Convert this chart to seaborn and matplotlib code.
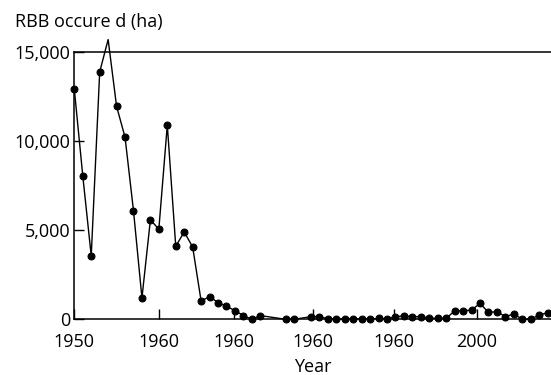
import numpy as np
import pandas as pd
import matplotlib
matplotlib.use("Agg")
import matplotlib.pyplot as plt
import seaborn as sns

# Annual area of RBB occurrence (ha)
years = [1950, 1951, 1952, 1953, 1954, 1955, 1956, 1957, 1958, 1959,
         1960, 1961, 1962, 1963, 1964, 1965, 1966, 1967, 1968, 1969,
         1970, 1971, 1972, 1975, 1976, 1978, 1979, 1980, 1981, 1982,
         1983, 1984, 1985, 1986, 1987, 1988, 1989, 1990, 1991, 1992,
         1993, 1994, 1995, 1996, 1997, 1998, 1999, 2000, 2001, 2002,
         2003, 2004, 2005, 2006]
area_ha = [12900, 8050, 3560, 13880, 15700, 11950, 10220, 6090, 1200, 5580,
           5060, 10900, 4100, 4900, 4060, 1030, 1270, 940, 730, 490,
           210, 0, 210, 0, 0, 150, 150, 30, 0, 20,
           20, 20, 20, 50, 10, 150, 190, 150, 150, 60,
           60, 60, 470, 470, 520, 890, 390, 430, 150, 300,
           0, 0, 240, 370]

xtick_pos = [1950.0, 1960.0, 1968.9, 1978.2, 1987.8, 1997.6]
xtick_labels = ["1950", "1960", "1960", "1960", "1960", "2000"]
ytick_pos = [0, 5000, 10000, 15000]
ytick_labels = ["0", "5,000", "10,000", "15,000"]

df = pd.DataFrame({"Year": years, "Area": area_ha})

sns.set_theme(style="ticks")
plt.rcParams["font.family"] = ["Open Sans", "DejaVu Sans"]

fig = plt.figure(figsize=(5.51, 3.75), dpi=100)
ax = fig.add_axes([0.1349, 0.1485, 1.0 - 0.1349, 0.8613 - 0.1485])

ymax = 15000
shown = [v <= ymax for v in area_ha]
sns.lineplot(data=df, x="Year", y="Area", ax=ax, color="black",
             linewidth=1.0, marker="o", markersize=5.0,
             markerfacecolor="black", markeredgecolor="black",
             markevery=shown, clip_on=False, sort=False,
             estimator=None)

ax.set_xlim(1950, 2006.4)
ax.set_ylim(0, ymax)

ax.set_xticks(xtick_pos)
ax.set_xticklabels(xtick_labels)
ax.set_yticks(ytick_pos)
ax.set_yticklabels(ytick_labels)

ax.tick_params(axis="both", direction="in", length=7.5, width=1.0,
               colors="black", labelsize=13)
ax.tick_params(axis="x", pad=10)
ax.tick_params(axis="y", pad=3)

for side in ("left", "bottom", "top"):
    ax.spines[side].set_linewidth(1.1)
    ax.spines[side].set_color("black")
ax.spines["right"].set_visible(False)

ax.set_xlabel("Year", fontsize=13, color="black", labelpad=5)
ax.set_ylabel("")
fig.text(15 / 551, 1 - 27 / 375, "RBB occure d (ha)", fontsize=13,
         color="black", ha="left", va="baseline")

fig.savefig("out.png", dpi=100)
